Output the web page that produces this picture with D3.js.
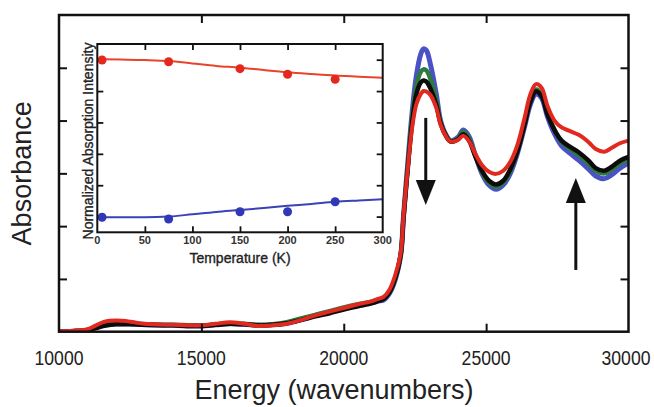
<!DOCTYPE html>
<html><head><meta charset="utf-8">
<script src="https://cdn.jsdelivr.net/npm/d3@7/dist/d3.min.js"></script>
<style>body{margin:0;background:#fff}svg{display:block}</style>
</head><body>
<svg id="c" width="654" height="407"></svg>
<script>
// ---- main spectrum data ----
const energy = [10000,10500,11000,11300,11600,12000,12500,13000,14000,15000,15500,16000,16500,17000,17500,18000,18500,19000,19500,20000,20500,21000,21200,
21400,21600,21800,22000,22100,22250,22400,22550,22700,22800,22900,23050,23250,23400,23600,23750,24000,24200,24400,24600,24850,25100,25350,25600,25850,26100,26350,26550,26750,26950,27150,27400,27650,27950,28250,28600,28850,29150,29400,29700,30000];
const absRed = [0.01,0.02,0.05,0.12,0.19,0.21,0.19,0.15,0.13,0.12,0.15,0.18,0.15,0.11,0.12,0.15,0.22,0.31,0.38,0.45,0.52,0.58,0.62,
0.66,0.79,1.06,1.49,2.21,3.10,3.86,4.31,4.50,4.56,4.55,4.48,4.24,3.92,3.69,3.60,3.63,3.71,3.61,3.39,3.16,3.03,2.99,3.05,3.22,3.54,4.05,4.49,4.69,4.62,4.28,4.00,3.87,3.80,3.73,3.59,3.46,3.41,3.48,3.57,3.62];
const absBlack = [0.0,0.01,0.03,0.07,0.11,0.14,0.14,0.13,0.12,0.11,0.13,0.15,0.14,0.12,0.13,0.16,0.22,0.29,0.35,0.42,0.48,0.54,0.58,
0.62,0.74,1.0,1.45,2.15,3.1,3.95,4.5,4.72,4.76,4.74,4.6,4.3,3.95,3.7,3.6,3.64,3.74,3.62,3.35,3.05,2.86,2.79,2.86,3.08,3.42,3.92,4.35,4.55,4.46,4.12,3.82,3.62,3.5,3.4,3.24,3.1,3.05,3.12,3.24,3.31];
const absGreen = [0.0,0.01,0.03,0.08,0.13,0.16,0.16,0.14,0.13,0.12,0.14,0.16,0.15,0.13,0.14,0.18,0.25,0.32,0.39,0.46,0.52,0.57,0.6,
0.62,0.74,0.99,1.47,2.2,3.15,4.05,4.65,4.92,4.97,4.95,4.78,4.38,3.97,3.71,3.61,3.66,3.79,3.66,3.37,3.03,2.82,2.75,2.82,3.05,3.42,3.93,4.37,4.59,4.5,4.14,3.83,3.6,3.46,3.35,3.18,3.05,3.0,3.07,3.19,3.27];
const absBlue = [0.0,0.01,0.03,0.08,0.13,0.15,0.15,0.13,0.12,0.11,0.13,0.15,0.14,0.12,0.13,0.16,0.23,0.31,0.37,0.44,0.5,0.55,0.58,
0.6,0.72,0.97,1.45,2.2,3.2,4.15,4.85,5.25,5.36,5.33,5.05,4.5,4.0,3.72,3.62,3.68,3.82,3.7,3.38,3.0,2.78,2.7,2.78,3.0,3.38,3.88,4.3,4.5,4.42,4.08,3.75,3.52,3.38,3.25,3.08,2.95,2.9,2.97,3.1,3.19];
const xTickLabels = [10000,15000,20000,25000,30000];
const yTickValues = [1,2,3,4,5];
// arrows (energy, from, to)
const arrowE = [22880, 28150];
const arrowFrom = [4.05, 1.17];
const arrowTo = [2.40, 2.91];

// ---- inset data ----
const temps = [5,75,150,200,250];
const intRed = [1.098,1.087,1.043,1.007,0.975];
const intBlue = [0.096,0.085,0.131,0.131,0.195];
const fitT = [5,25,50,75,100,125,150,175,200,225,250,275,300];
const fitRed = [1.103,1.101,1.098,1.092,1.076,1.06,1.049,1.034,1.02,1.009,0.999,0.992,0.985];
const fitBlue = [0.096,0.096,0.096,0.1,0.115,0.13,0.142,0.155,0.169,0.181,0.195,0.203,0.21];
const insetXTicks = [0,50,100,150,200,250,300];
const insetYTicks = [0.1,0.3,0.5,0.7,0.9,1.1];

const svg = d3.select('#c');
const L=59, R=628.5, T=15, B=331.7;
const x = d3.scaleLinear().domain([10000,30000]).range([L,R]);
const y = d3.scaleLinear().domain([0,6]).range([B,T]);

const FONT = "'Liberation Sans', Arial, Helvetica, sans-serif";

// curves
const series = [
  {v:absBlue, c:'#4a52c6', w:5},
  {v:absGreen, c:'#2d7a3c', w:4.5},
  {v:absBlack, c:'#0c0c0c', w:4.5},
  {v:absRed, c:'#e2291f', w:4}
];
const line = d3.line().x(d=>x(d[0])).y(d=>y(d[1])).curve(d3.curveCatmullRom.alpha(0.5));
const gPlot = svg.append('g');
gPlot.append('clipPath').attr('id','clipMain').append('rect').attr('x',L).attr('y',T).attr('width',R-L).attr('height',B-T);
series.forEach(s=>{
  gPlot.append('path').attr('clip-path','url(#clipMain)')
    .attr('d', line(energy.map((e,i)=>[e,s.v[i]])))
    .attr('fill','none').attr('stroke',s.c).attr('stroke-width',s.w)
    .attr('stroke-linejoin','round').attr('stroke-linecap','round');
});

// main axes (inward ticks on all four sides)
const tl = 8;
const xAxB = d3.axisBottom(x).tickValues([15000,20000,25000]).tickSize(-tl).tickFormat('');
const xAxT = d3.axisTop(x).tickValues([15000,20000,25000]).tickSize(-tl).tickFormat('');
const yAxL = d3.axisLeft(y).tickValues(yTickValues).tickSize(-tl).tickFormat('');
const yAxR = d3.axisRight(y).tickValues(yTickValues).tickSize(-tl).tickFormat('');
function styleAx(g,w){g.select('.domain').remove();g.selectAll('line').attr('stroke','#111').attr('stroke-width',w);}
svg.append('g').attr('transform',`translate(0,${B})`).call(xAxB).call(g=>styleAx(g,2));
svg.append('g').attr('transform',`translate(0,${T})`).call(xAxT).call(g=>styleAx(g,2));
svg.append('g').attr('transform',`translate(${L},0)`).call(yAxL).call(g=>styleAx(g,2));
svg.append('g').attr('transform',`translate(${R},0)`).call(yAxR).call(g=>styleAx(g,2));
svg.append('rect').attr('x',L).attr('y',T).attr('width',R-L).attr('height',B-T)
  .attr('fill','none').attr('stroke','#111').attr('stroke-width',2.5);

// x tick labels (slightly condensed like the original)
svg.append('g').selectAll('text').data(xTickLabels).join('text')
  .attr('transform',d=>`translate(${Math.min(x(d), 626)},365) scale(0.84,1)`).attr('text-anchor','middle')
  .attr('font-family',FONT).attr('font-size',21).attr('fill','#222').text(d=>d);

// axis titles
svg.append('text').attr('x',334).attr('y',399).attr('text-anchor','middle')
  .attr('font-family',FONT).attr('font-size',27).attr('fill','#222').text('Energy (wavenumbers)');
svg.append('text').attr('transform',`translate(31,${(T+B)/2}) rotate(-90)`).attr('text-anchor','middle')
  .attr('font-family',FONT).attr('font-size',27).attr('fill','#222').text('Absorbance');

// arrows
arrowE.forEach((e,i)=>{
  const ax = x(e), y0 = y(arrowFrom[i]), y1 = y(arrowTo[i]);
  const dir = Math.sign(y1-y0), hl = 25, hw = 10;
  svg.append('line').attr('x1',ax).attr('x2',ax).attr('y1',y0).attr('y2',y1-dir*hl+dir*2)
    .attr('stroke','#111').attr('stroke-width',3);
  svg.append('path').attr('d',`M${ax},${y1} L${ax-hw},${y1-dir*hl} L${ax+hw},${y1-dir*hl} Z`).attr('fill','#111');
});

// ---- inset ----
const iL=97.3, iR=382.7, iT=44, iB=232.3;
const ix = d3.scaleLinear().domain([0,300]).range([iL,iR]);
const iy = d3.scaleLinear().domain([0,1.2]).range([iB,iT]);
svg.append('rect').attr('x',iL).attr('y',iT).attr('width',iR-iL).attr('height',iB-iT).attr('fill','#fff');
const itl = 6;
const ixTicks = insetXTicks.slice(1,-1);
svg.append('g').attr('transform',`translate(0,${iB})`).call(d3.axisBottom(ix).tickValues(ixTicks).tickSize(-itl).tickFormat('')).call(g=>styleAx(g,1.8));
svg.append('g').attr('transform',`translate(0,${iT})`).call(d3.axisTop(ix).tickValues(ixTicks).tickSize(-itl).tickFormat('')).call(g=>styleAx(g,1.8));
svg.append('g').attr('transform',`translate(${iL},0)`).call(d3.axisLeft(iy).tickValues(insetYTicks).tickSize(-itl).tickFormat('')).call(g=>styleAx(g,1.8));
svg.append('g').attr('transform',`translate(${iR},0)`).call(d3.axisRight(iy).tickValues(insetYTicks).tickSize(-itl).tickFormat('')).call(g=>styleAx(g,1.8));

const iline = d3.line().x(d=>ix(d[0])).y(d=>iy(d[1])).curve(d3.curveMonotoneX);
svg.append('path').attr('d',iline(fitT.map((t,i)=>[t,fitRed[i]]))).attr('fill','none').attr('stroke','#e8442c').attr('stroke-width',2);
svg.append('path').attr('d',iline(fitT.map((t,i)=>[t,fitBlue[i]]))).attr('fill','none').attr('stroke','#3b42b5').attr('stroke-width',2);
svg.append('g').selectAll('circle').data(temps.map((t,i)=>[t,intRed[i]])).join('circle')
  .attr('cx',d=>ix(d[0])).attr('cy',d=>iy(d[1])).attr('r',4.5).attr('fill','#e5281e');
svg.append('g').selectAll('circle').data(temps.map((t,i)=>[t,intBlue[i]])).join('circle')
  .attr('cx',d=>ix(d[0])).attr('cy',d=>iy(d[1])).attr('r',4.5).attr('fill','#3038b5');
svg.append('rect').attr('x',iL).attr('y',iT).attr('width',iR-iL).attr('height',iB-iT)
  .attr('fill','none').attr('stroke','#111').attr('stroke-width',2);

svg.append('g').selectAll('text').data(insetXTicks).join('text')
  .attr('x',d=>ix(d)).attr('y',243.5).attr('text-anchor','middle')
  .attr('font-family',FONT).attr('font-size',11).attr('font-weight','bold').attr('fill','#333').text(d=>d);
svg.append('text').attr('x',(iL+iR)/2).attr('y',263).attr('text-anchor','middle')
  .attr('font-family',FONT).attr('font-size',14).attr('fill','#222')
  .attr('stroke','#222').attr('stroke-width',0.35).text('Temperature (K)');
svg.append('text').attr('transform',`translate(92.5,141) rotate(-90)`).attr('text-anchor','middle')
  .attr('font-family',FONT).attr('font-size',14).attr('fill','#222')
  .attr('stroke','#222').attr('stroke-width',0.35).text('Normalized Absorption Intensity');
</script>
</body></html>
